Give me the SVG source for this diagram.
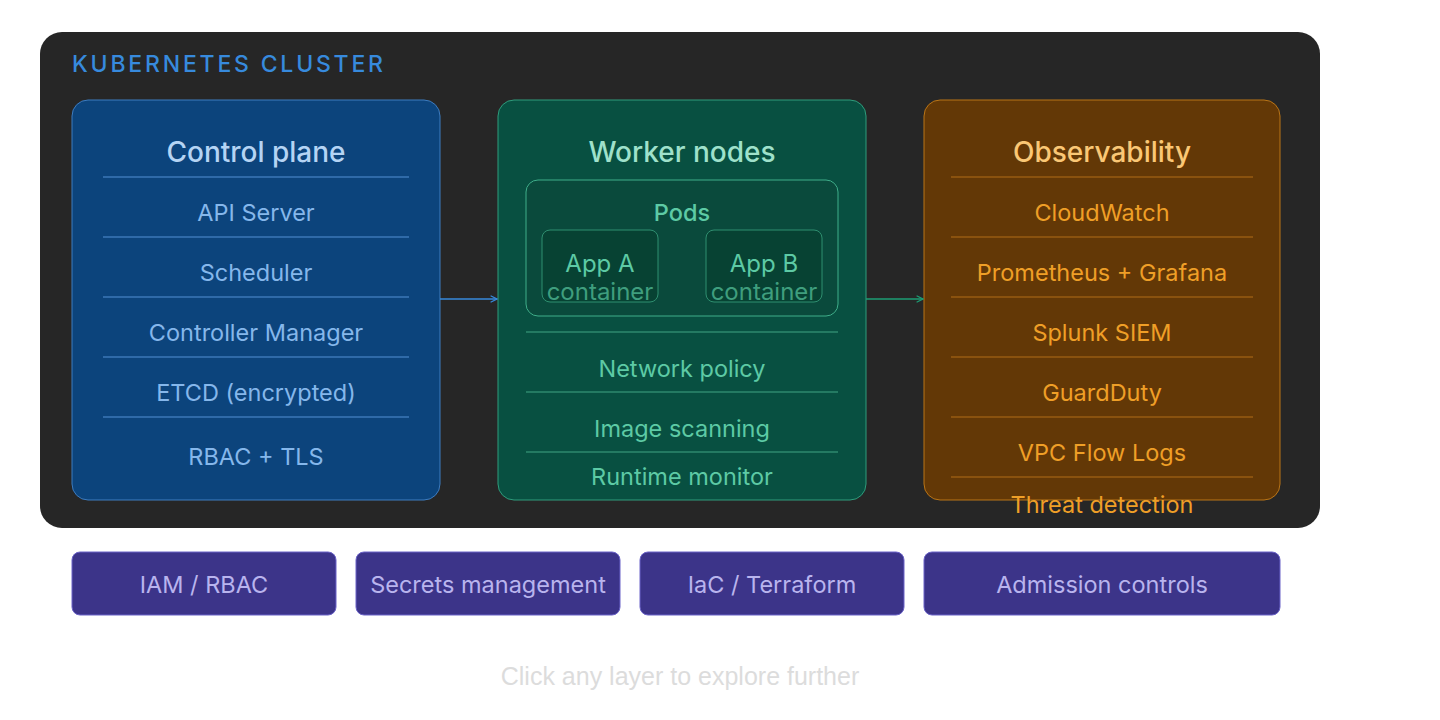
<svg xmlns="http://www.w3.org/2000/svg" width="1440" height="720" viewBox="0 0 1440 720">
<defs>
<marker id="ab" viewBox="0 0 10 10" refX="9" refY="5" markerWidth="8" markerHeight="8" orient="auto" markerUnits="userSpaceOnUse"><path d="M1 1L9 5L1 9" fill="none" stroke="#378add" stroke-width="1.6"/></marker>
<marker id="ag" viewBox="0 0 10 10" refX="9" refY="5" markerWidth="8" markerHeight="8" orient="auto" markerUnits="userSpaceOnUse"><path d="M1 1L9 5L1 9" fill="none" stroke="#1d9e75" stroke-width="1.6"/></marker>
<style>
text{font-family:Inter,"Noto Sans",sans-serif;text-anchor:middle;}
.ttl{font-size:28px;font-weight:500;}
.it{font-size:23.5px;}
.cp .ttl{fill:#b5d4f4}.cp .it{fill:#85b7eb}.cp line{stroke:#2f6aa8;stroke-width:2}
.wk .ttl{fill:#9fe1cb}.wk .it{fill:#5dcaa5}.wk line{stroke:#247a62;stroke-width:2}
.ob .ttl{fill:#fac775}.ob .it{fill:#ef9f27}.ob line{stroke:#8a520e;stroke-width:2}
.bt rect{fill:#3c3489;stroke:#6a62c8;stroke-width:1}
.bt text{fill:#b9b4ee;font-size:23.5px}
</style>
</defs>
<g id="cluster">
<rect x="40" y="32" width="1280" height="496" rx="22" fill="#262626"/>
<text x="72" y="72" style="text-anchor:start;font-size:23px;letter-spacing:2.8px;fill:#378add;font-weight:500">KUBERNETES CLUSTER</text>
</g>
<g id="control-plane" class="cp">
<rect x="72" y="100" width="368" height="400" rx="16" fill="#0c447c" stroke="#3d7cc0" stroke-width="1"/>
<text class="ttl" x="256" y="162">Control plane</text>
<line x1="103" y1="177" x2="409" y2="177"/>
<text class="it" x="256" y="221">API Server</text>
<line x1="103" y1="237" x2="409" y2="237"/>
<text class="it" x="256" y="281">Scheduler</text>
<line x1="103" y1="297" x2="409" y2="297"/>
<text class="it" x="256" y="341">Controller Manager</text>
<line x1="103" y1="357" x2="409" y2="357"/>
<text class="it" x="256" y="401">ETCD (encrypted)</text>
<line x1="103" y1="417" x2="409" y2="417"/>
<text class="it" x="256" y="465">RBAC + TLS</text>
</g>
<g id="worker-nodes" class="wk">
<rect x="498" y="100" width="368" height="400" rx="16" fill="#085041" stroke="#2f9c7c" stroke-width="1"/>
<text class="ttl" x="682" y="162">Worker nodes</text>
<rect x="526" y="180" width="312" height="136" rx="12" fill="#0a4a3c" stroke="#3fae8a" stroke-width="1"/>
<text class="it" x="682" y="221" style="font-weight:500">Pods</text>
<rect x="542" y="230" width="116" height="72" rx="8" fill="#074233" stroke="#2f8f70" stroke-width="1"/>
<text class="it" x="600" y="272" style="font-size:24px">App A</text>
<text class="it" x="600" y="300" style="font-size:24px;fill:#3f9e7e">container</text>
<rect x="706" y="230" width="116" height="72" rx="8" fill="#074233" stroke="#2f8f70" stroke-width="1"/>
<text class="it" x="764" y="272" style="font-size:24px">App B</text>
<text class="it" x="764" y="300" style="font-size:24px;fill:#3f9e7e">container</text>
<line x1="526" y1="332" x2="838" y2="332"/>
<text class="it" x="682" y="377">Network policy</text>
<line x1="526" y1="392" x2="838" y2="392"/>
<text class="it" x="682" y="437">Image scanning</text>
<line x1="526" y1="452" x2="838" y2="452"/>
<text class="it" x="682" y="485">Runtime monitor</text>
</g>
<g id="observability" class="ob">
<rect x="924" y="100" width="356" height="400" rx="16" fill="#633806" stroke="#ba7517" stroke-width="1"/>
<text class="ttl" x="1102" y="162">Observability</text>
<line x1="951" y1="177" x2="1253" y2="177"/>
<text class="it" x="1102" y="221">CloudWatch</text>
<line x1="951" y1="237" x2="1253" y2="237"/>
<text class="it" x="1102" y="281">Prometheus + Grafana</text>
<line x1="951" y1="297" x2="1253" y2="297"/>
<text class="it" x="1102" y="341">Splunk SIEM</text>
<line x1="951" y1="357" x2="1253" y2="357"/>
<text class="it" x="1102" y="401">GuardDuty</text>
<line x1="951" y1="417" x2="1253" y2="417"/>
<text class="it" x="1102" y="461">VPC Flow Logs</text>
<line x1="951" y1="477" x2="1253" y2="477"/>
<text class="it" x="1102" y="513">Threat detection</text>
</g>
<g id="connectors">
<line x1="440" y1="299" x2="497" y2="299" stroke="#378add" stroke-width="1.5" marker-end="url(#ab)"/>
<line x1="866" y1="299" x2="923" y2="299" stroke="#1d9e75" stroke-width="1.5" marker-end="url(#ag)"/>
</g>
<g id="iam" class="bt"><rect x="72" y="552" width="264" height="63" rx="8"/><text x="204" y="593">IAM / RBAC</text></g>
<g id="secrets" class="bt"><rect x="356" y="552" width="264" height="63" rx="8"/><text x="488" y="593">Secrets management</text></g>
<g id="iac" class="bt"><rect x="640" y="552" width="264" height="63" rx="8"/><text x="772" y="593">IaC / Terraform</text></g>
<g id="admission" class="bt"><rect x="924" y="552" width="356" height="63" rx="8"/><text x="1102" y="593">Admission controls</text></g>
<text x="680" y="685" style="font-family:'Liberation Sans',Arial,sans-serif;font-size:25px;fill:#dcdcdc">Click any layer to explore further</text>
</svg>
